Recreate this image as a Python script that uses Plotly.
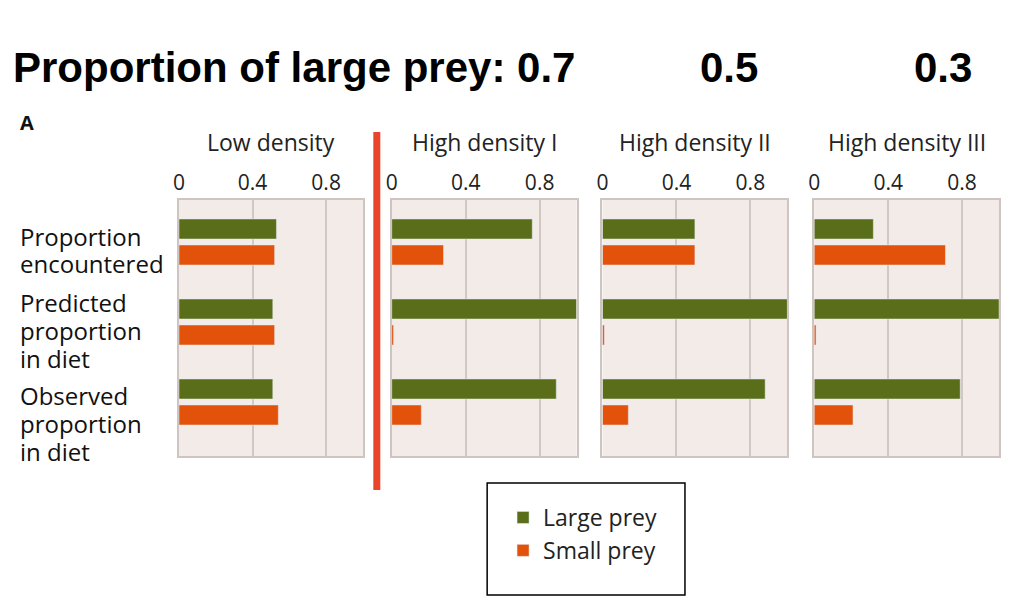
import plotly.graph_objects as go

groups = ["Proportion encountered", "Predicted proportion in diet", "Observed proportion in diet"]
panels = ["Low density", "High density I", "High density II", "High density III"]
large = [[0.53, 0.51, 0.51], [0.76, 1.0, 0.89], [0.50, 1.0, 0.88], [0.32, 1.0, 0.79]]
small = [[0.52, 0.52, 0.54], [0.28, 0.01, 0.16], [0.50, 0.01, 0.14], [0.71, 0.01, 0.21]]
tick_vals = [0, 0.4, 0.8]
tick_text = ["0", "0.4", "0.8"]
title_parts = ["Proportion of large prey: 0.7", "0.5", "0.3"]

W, H = 1004, 600
OFF = 8
def px(x): return (x - OFF) / W
def py(y): return 1 - (y - OFF) / H

GREEN, ORANGE = "#5a6e1a", "#e2520a"
doms = [(174, 359), (388, 574), (600, 786), (813, 999)]
ydom = [py(456), py(200)]

fig = go.Figure()
for i in range(4):
    ax = "" if i == 0 else str(i + 1)
    fig.add_trace(go.Bar(y=groups, x=large[i], orientation="h", marker_color=GREEN,
                         name="Large prey", showlegend=(i == 0), xaxis="x" + ax, yaxis="y" + ax))
    fig.add_trace(go.Bar(y=groups, x=small[i], orientation="h", marker_color=ORANGE,
                         name="Small prey", showlegend=(i == 0), xaxis="x" + ax, yaxis="y" + ax))
    d = doms[i]
    fig.layout["xaxis" + ax] = dict(domain=[px(d[0]), px(d[1])], range=[0, 1], side="top",
                                    tickvals=tick_vals, ticktext=tick_text, showgrid=True,
                                    gridcolor="#d2c8c3", gridwidth=2, zeroline=False,
                                    showline=True, mirror=True, linecolor="#cfc5c0", linewidth=2,
                                    tickfont=dict(size=21, color="#222"), ticks="",
                                    anchor="y" + ax, fixedrange=True)
    fig.layout["yaxis" + ax] = dict(domain=ydom, range=[2.675, -0.525], type="category",
                                    showticklabels=False, showline=True, mirror=True,
                                    linecolor="#cfc5c0", linewidth=2, anchor="x" + ax, ticks="")
    fig.add_annotation(text=panels[i], x=px((d[0] + d[1]) / 2), y=py(142), xref="paper",
                       yref="paper", showarrow=False, xanchor="center", yanchor="middle",
                       font=dict(size=23, color="#222"))

label_lines = [("Proportion", 236), ("encountered", 263), ("Predicted", 302), ("proportion", 330),
               ("in diet", 358), ("Observed", 396), ("proportion", 423), ("in diet", 451)]
for t, yc in label_lines:
    fig.add_annotation(text=t, x=px(12), y=py(yc), xref="paper", yref="paper", showarrow=False,
                       xanchor="left", yanchor="middle", font=dict(size=24, color="#111"))

title_pos = [(5, "left"), (727, "center"), (943, "center")]
for t, (x, anc) in zip(title_parts, title_pos):
    fig.add_annotation(text="<b>" + t + "</b>", x=px(x), y=py(67), xref="paper", yref="paper",
                       showarrow=False, xanchor=anc, yanchor="middle",
                       font=dict(size=42, family="Liberation Sans", color="#000"))
fig.add_annotation(text="<b>A</b>", x=px(12), y=py(123), xref="paper", yref="paper",
                   showarrow=False, xanchor="left", yanchor="middle", font=dict(size=20, color="#111"))
fig.add_shape(type="line", xref="paper", yref="paper", x0=px(373), x1=px(373),
              y0=py(490), y1=py(132), line=dict(color="#e8452a", width=7))
fig.add_shape(type="rect", xref="paper", yref="paper", x0=px(484), x1=px(683),
              y0=py(595), y1=py(483), line=dict(color="#000", width=1.5))

fig.update_layout(width=W, height=H, margin=dict(l=0, r=0, t=0, b=0), barmode="group",
                  bargap=0.35, bargroupgap=0.23, plot_bgcolor="#f2ebe8", paper_bgcolor="white",
                  font=dict(family="Open Sans"),
                  legend=dict(x=px(500), y=py(496), xanchor="left", yanchor="top",
                              borderwidth=0, font=dict(size=23, color="#222"),
                              bgcolor="rgba(0,0,0,0)", traceorder="normal", tracegroupgap=4))
fig.write_html("out.html")
